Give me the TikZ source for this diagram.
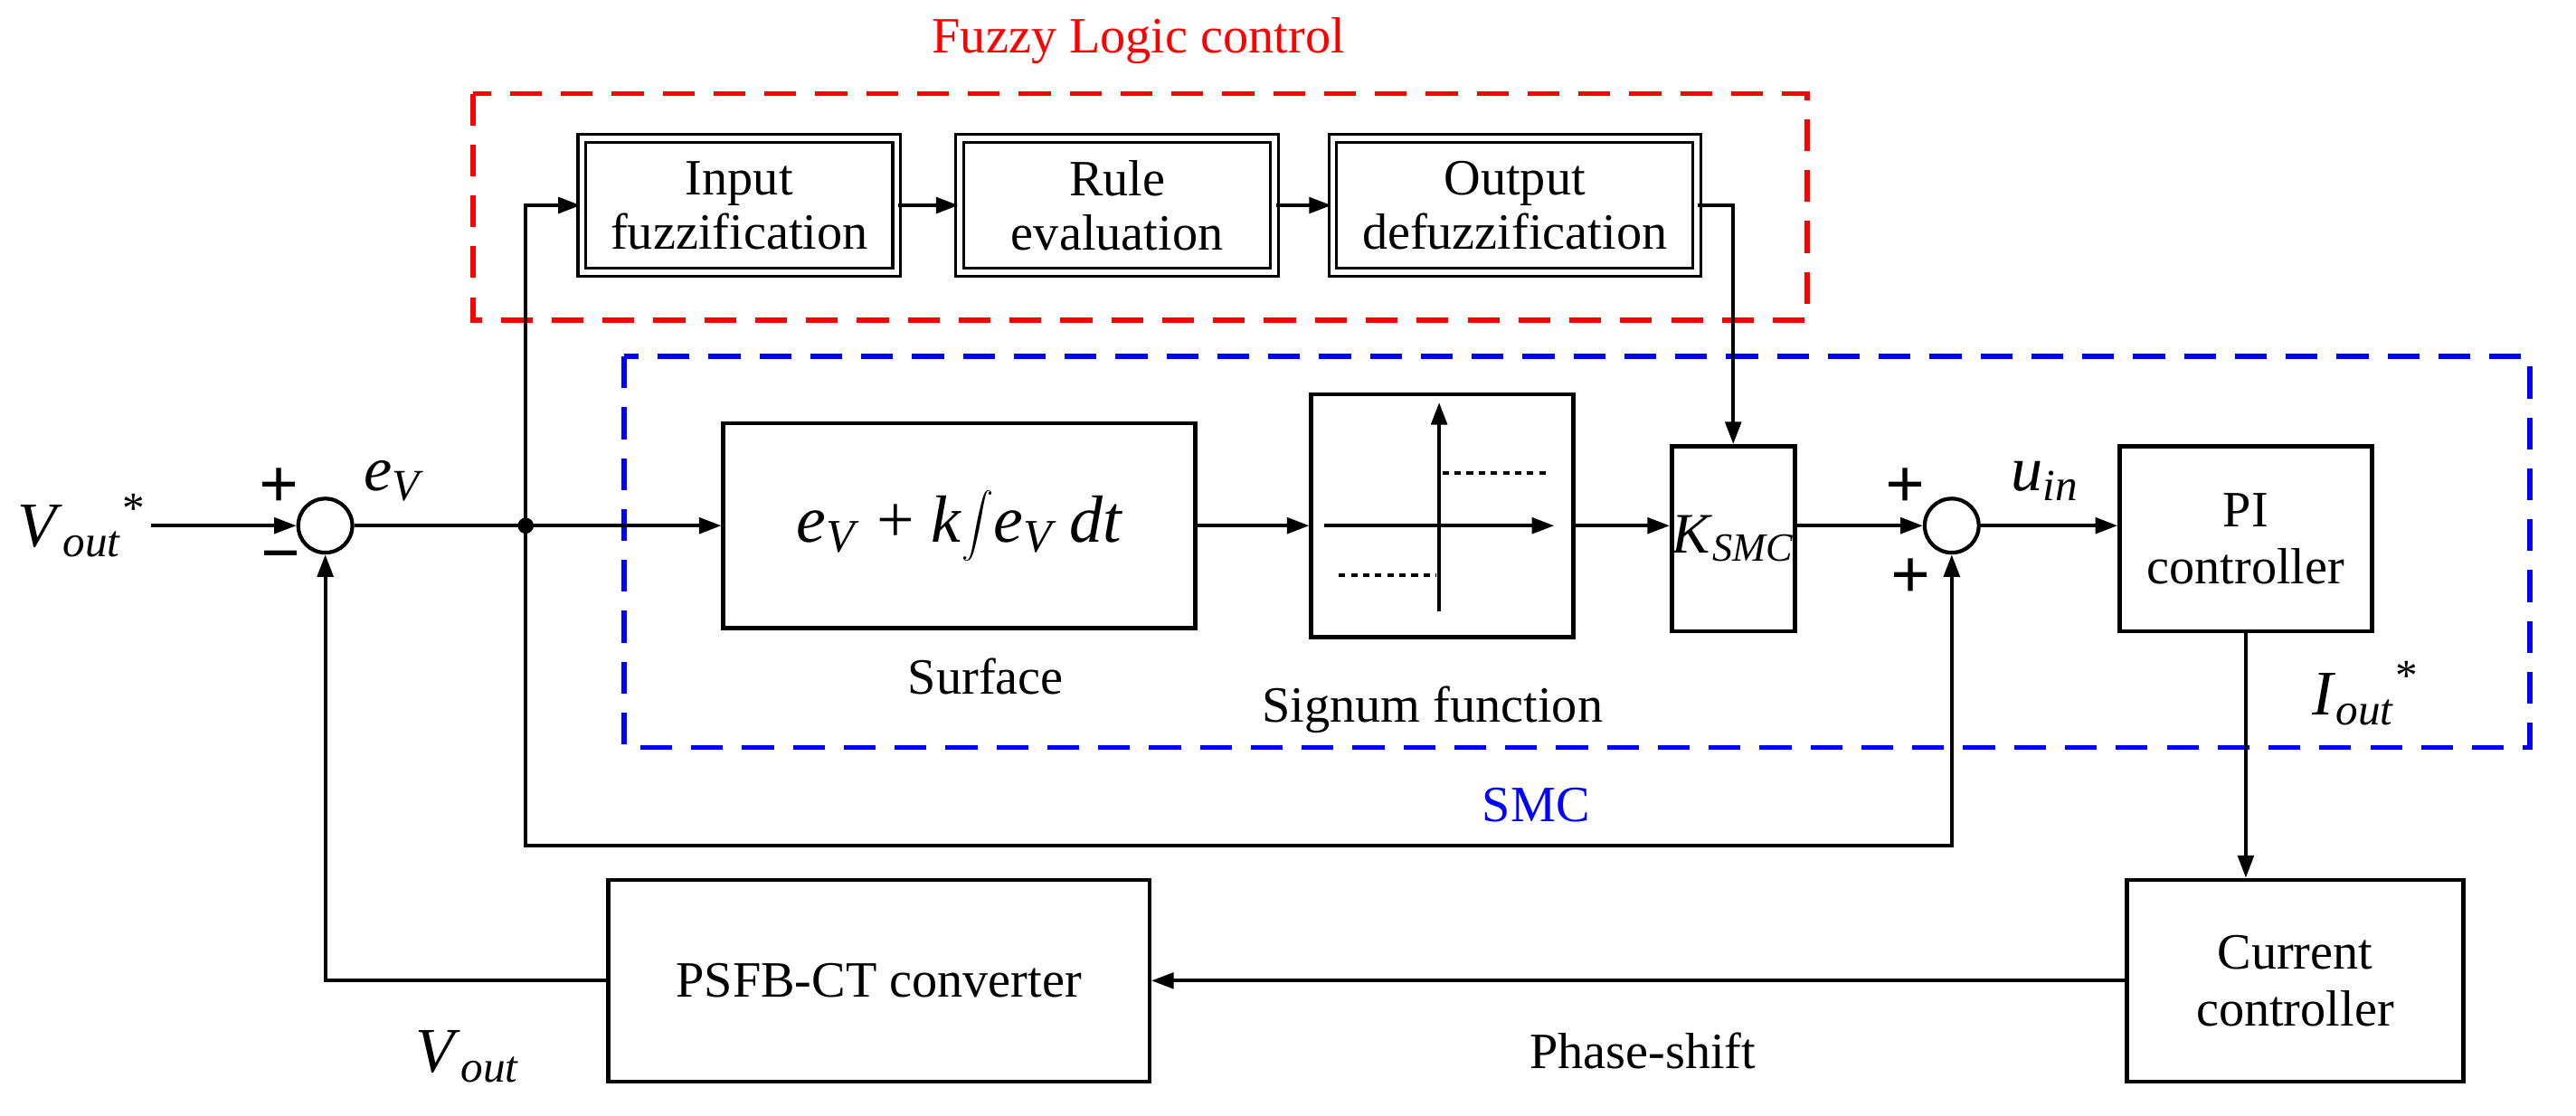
\documentclass[tikz,border=0pt]{standalone}
\usepackage{fontspec}
\setmainfont{Liberation Serif}
\usetikzlibrary{arrows.meta,calc}
\newcommand{\ti}[1]{\textit{#1}}
\begin{document}
\begin{tikzpicture}[x=0.018163cm,y=-0.018163cm,
  >={Triangle[length=7pt,width=5pt]},
  blk/.style={draw,line width=1.3pt,minimum width=#1*0.5155pt,inner sep=0pt,align=center,font=\fontsize{16}{18}\selectfont},
  dbl/.style={draw,line width=0.9pt,double,double distance=1.6pt,inner sep=0pt,align=center,minimum width=#1*0.5155pt,minimum height=42pt,font=\fontsize{16}{17}\selectfont},
  sumc/.style={draw,line width=1.2pt,circle,minimum size=17pt,inner sep=0pt},
  ln/.style={line width=1.1pt},
  lbl/.style={font=\fontsize{16}{18}\selectfont},
  mlbl/.style={font=\fontsize{20}{22}\selectfont},
  sg/.style={font=\fontsize{22}{22}\selectfont\bfseries}]
\useasboundingbox (0,0) rectangle (1568,679);
% containers
\draw[red,line width=1.6pt,dash pattern=on 10pt off 6pt] (288,57) rectangle (1100,195);
\node[red,lbl] (flt) at (693,25) {Fuzzy Logic control};
\draw[blue,line width=1.6pt,dash pattern=on 10pt off 6pt] (380,217) rectangle (1540,455);
\node[blue,lbl] (smcl) at (935,490) {SMC};
% fuzzy blocks
\node[dbl=192] (inp) at (450,125) {Input\\fuzzification};
\node[dbl=192] (rule) at (680,125) {Rule\\evaluation};
\node[dbl=222] (outp) at (922,125) {Output\\defuzzification};
% main row
\node[mlbl] (vref) at (50,320) {\ti{V}\textsubscript{\ti{out}}\textsuperscript{*}};
\node[sumc] (s1) at (198,320) {};
\node[sg] (p1) at (170,297) {+};
\node[sg] (m1) at (171,343) {\textminus};
\node[mlbl] (ev) at (240,293) {\ti{e}\textsubscript{\ti{V}}};
\coordinate (j) at (320,320);
\fill (j) circle (2.5pt);
\node[blk=288,minimum height=125*0.5155pt,font=\fontsize{21}{22}\selectfont] (surf) at (584,320) {\ti{e}\textsubscript{\ti{V}} + \ti{k}$\displaystyle\int$\ti{e}\textsubscript{\ti{V}}\,\ti{dt}};
\node[lbl] (surfl) at (600,412) {Surface};
\node[blk=160,minimum height=148*0.5155pt] (sgn) at (878,314) {};
\node[lbl] (sgnl) at (872,432) {Signum function};
\node[blk=75,minimum height=113*0.5155pt,font=\fontsize{18}{20}\selectfont] (k) at (1055,328) {\ti{K}\textsubscript{\ti{SMC}}};
\node[sumc] (s2) at (1188,320) {};
\node[sg] (p2) at (1160,297) {+};
\node[sg] (p3) at (1163,352) {+};
\node[mlbl] (uin) at (1245,293) {\ti{u}\textsubscript{\ti{in}}};
\node[blk=154,minimum height=113*0.5155pt] (pi) at (1367,328) {PI\\controller};
\node[mlbl] (iout) at (1440,422) {\ti{I}\textsubscript{\ti{out}}\textsuperscript{*}};
\node[blk=205,minimum height=123*0.5155pt] (cc) at (1397,597) {Current\\controller};
\node[blk=330,minimum height=123*0.5155pt] (ps) at (535,597) {PSFB-CT converter};
\node[lbl] (phl) at (1000,640) {Phase-shift};
\node[mlbl] (vo) at (285,643) {\ti{V}\textsubscript{\ti{out}}};
% signum interior
\coordinate (sa) at (876,372); \coordinate (sb) at (876,245);
\coordinate (sc) at (806,320); \coordinate (sd) at (946,320);
\draw[ln,->] (sa) -- (sb);
\draw[ln,->] (sc) -- (sd);
\draw[line width=1.2pt,dash pattern=on 2pt off 1.8pt] (878,288) -- (942,288);
\draw[line width=1.2pt,dash pattern=on 2pt off 1.8pt] (815,350) -- (874,350);
% connectors
\coordinate (vstart) at (92,320);
\draw[ln,->] (vstart) -- (s1.west);
\draw[ln] (s1.east) -- (j);
\draw[ln,->] (j) -- (surf.west);
\draw[ln,->] (j) |- (inp.west);
\draw[ln,->] (inp) -- (rule);
\draw[ln,->] (rule) -- (outp);
\draw[ln,->] (outp.east) -| (k.north);
\draw[ln,->] (surf.east) -- (sgn.west |- surf.east);
\draw[ln,->] (sgn.east |- surf.east) -- (k.west |- surf.east);
\draw[ln,->] (k.east |- s2) -- (s2.west);
\draw[ln,->] (s2.east) -- (pi.west |- s2);
\draw[ln,->] (j) |- (1188,515) -- (s2.south);
\draw[ln,->] (pi.south) -- (cc.north -| pi.south);
\draw[ln,->] (cc.west) -- (ps.east);
\draw[ln,->] (ps.west) -| (s1.south);
\end{tikzpicture}
\end{document}
